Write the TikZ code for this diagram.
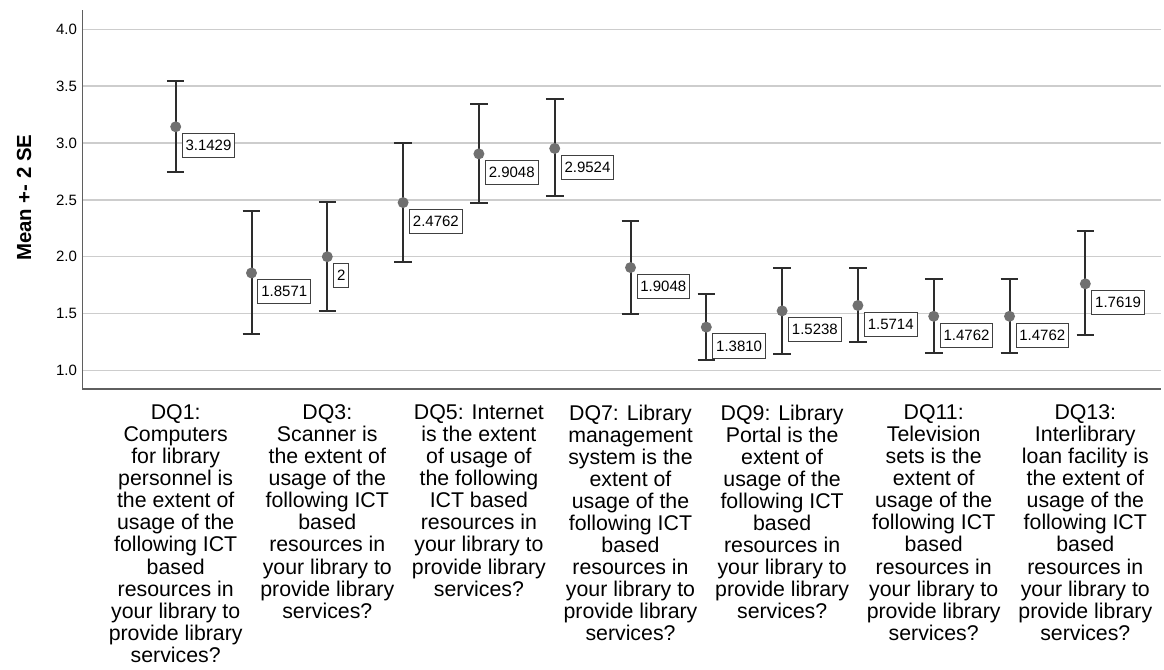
\documentclass[tikz,border=0pt]{standalone}
\usepackage{fontspec}
\setmainfont{Liberation Sans}
\usepackage{tikz}
\usetikzlibrary{positioning}
\definecolor{gridgray}{RGB}{205, 205, 205}
\definecolor{axisgray}{RGB}{95, 95, 95}
\definecolor{bardark}{RGB}{45, 45, 45}
\definecolor{dotgray}{RGB}{112, 112, 112}

\begin{document}
\begin{tikzpicture}[x=2cm, y=3cm, font=\fontsize{11.25}{13}\selectfont,
    gridline/.style={gridgray, line width=1.1pt},
    errbar/.style={bardark, line width=1.5pt},
    meanpt/.style={circle, fill=dotgray, inner sep=0pt, minimum size=0.29cm},
    vallabel/.style={draw=black!75, line width=0.7pt, fill=white,
                     inner xsep=0.09cm, inner ysep=0pt, minimum height=0.64cm},
    catlabel/.style={align=center, anchor=north, inner sep=0pt,
                     font=\fontsize{16}{16.55}\selectfont}]
  \useasboundingbox (-1.318,-1.629) rectangle (14.038,4.258);
  % Gridlines and scale
  \foreach \v [count=\k] in {1.0,1.5,2.0,2.5,3.0,3.5,4.0}{
    \draw[gridline] (-0.227,\v) -- (14.0,\v);
    \node[anchor=east, inner sep=0pt] (tick\k) at (-0.30,\v) {\v};
  }
  % Axes
  \coordinate (origin) at (-0.227,0.836);
  \coordinate (ytop) at (-0.227,4.17);
  \coordinate (xend) at (14.0,0.836);
  \draw[axisgray, line width=1.1pt] (ytop) -- (origin) -- (xend);
  \node[rotate=90, font=\bfseries\fontsize{15.3}{18}\selectfont] (ylab)
       at (-1.0,2.52) {Mean +- 2 SE};
  % Error bars, means and value boxes
  \foreach \i/\m/\lo/\hi/\txt in {1/3.1429/2.747/3.543/3.1429,
      2/1.8571/1.321/2.399/1.8571, 3/2.0000/1.523/2.481/2,
      4/2.4762/1.952/3.004/2.4762, 5/2.9048/2.475/3.342/2.9048,
      6/2.9524/2.531/3.383/2.9524, 7/1.9048/1.494/2.317/1.9048,
      8/1.3810/1.092/1.673/1.3810, 9/1.5238/1.144/1.905/1.5238,
      10/1.5714/1.247/1.899/1.5714, 11/1.4762/1.153/1.805/1.4762,
      12/1.4762/1.153/1.805/1.4762, 13/1.7619/1.312/2.222/1.7619}{
    \coordinate (lo\i) at (\i,\lo);
    \coordinate (hi\i) at (\i,\hi);
    \draw[errbar] (lo\i) -- (hi\i);
    \draw[errbar] ([xshift=-0.232cm]lo\i) -- ([xshift=0.232cm]lo\i);
    \draw[errbar] ([xshift=-0.232cm]hi\i) -- ([xshift=0.232cm]hi\i);
    \node[meanpt] (m\i) at (\i,\m) {};
    \node[vallabel, below right=0.164cm and 0.158cm of m\i.center] (v\i) {\txt};
  }
  % Category labels
  \foreach \i/\txt in {
      1/{DQ1:\\Computers\\for library\\personnel is\\the extent of\\usage of the\\following ICT\\based\\resources in\\your library to\\provide library\\services?},
      3/{DQ3:\\Scanner is\\the extent of\\usage of the\\following ICT\\based\\resources in\\your library to\\provide library\\services?},
      5/{DQ5: Internet\\is the extent\\of usage of\\the following\\ICT based\\resources in\\your library to\\provide library\\services?},
      7/{DQ7: Library\\management\\system is the\\extent of\\usage of the\\following ICT\\based\\resources in\\your library to\\provide library\\services?},
      9/{DQ9: Library\\Portal is the\\extent of\\usage of the\\following ICT\\based\\resources in\\your library to\\provide library\\services?},
      11/{DQ11:\\Television\\sets is the\\extent of\\usage of the\\following ICT\\based\\resources in\\your library to\\provide library\\services?},
      13/{DQ13:\\Interlibrary\\loan facility is\\the extent of\\usage of the\\following ICT\\based\\resources in\\your library to\\provide library\\services?}}{
    \node[catlabel] (c\i) at (\i,0.70) {\txt};
  }
\end{tikzpicture}
\end{document}
